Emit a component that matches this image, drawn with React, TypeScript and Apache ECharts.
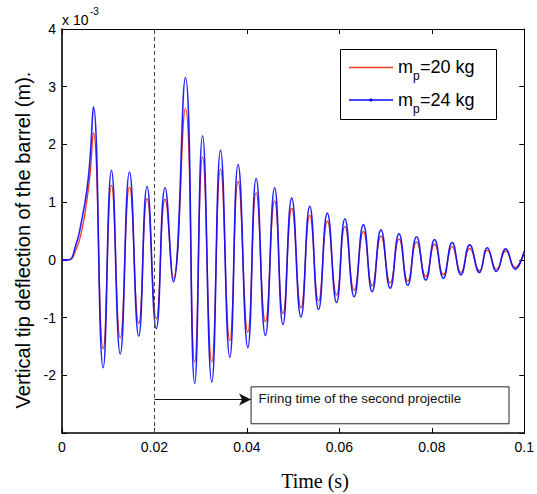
import React, { useEffect, useRef } from "react";
import * as echarts from "echarts";

// Time (s) of the read-off extrema / shape points
const time = [
  0, 0.0014, 0.0029, 0.0043, 0.0054, 0.0061, 0.0068, 0.0089, 0.0107, 0.0126,
  0.0146, 0.0166, 0.0184, 0.0204, 0.0223, 0.0241, 0.0267, 0.0287, 0.0304, 0.0324,
  0.0343, 0.0363, 0.0381, 0.0402, 0.042, 0.044, 0.046, 0.0478, 0.0497, 0.0517,
  0.0536, 0.0555, 0.0574, 0.0594, 0.0612, 0.0632, 0.0652, 0.0671, 0.069, 0.071,
  0.0729, 0.0748, 0.0767, 0.0787, 0.0806, 0.0825, 0.0844, 0.0863, 0.0882, 0.0903,
  0.092, 0.094, 0.096, 0.098, 0.1,
];
// Deflection in units of 1e-3 m
const deflection20kg = [
  0, 0, 0.15, 0.52, 1.04, 1.51, 2.2, -1.54, 1.29, -1.35,
  1.26, -1.1, 1.06, -1.02, 1.05, -0.32, 2.62, -1.77, 1.78, -1.77,
  1.57, -1.4, 1.36, -1.25, 1.16, -1.07, 1.02, -0.93, 0.89, -0.83,
  0.77, -0.71, 0.67, -0.61, 0.58, -0.53, 0.49, -0.45, 0.41, -0.4,
  0.36, -0.37, 0.31, -0.29, 0.27, -0.26, 0.23, -0.22, 0.2, -0.19,
  0.17, -0.16, 0.15, -0.13, 0.12,
];
const deflection24kg = [
  0, 0, 0.23, 0.7, 1.22, 1.79, 2.65, -1.87, 1.55, -1.63,
  1.52, -1.32, 1.27, -1.19, 1.25, -0.38, 3.16, -2.14, 2.15, -2.12,
  1.9, -1.69, 1.65, -1.52, 1.41, -1.31, 1.25, -1.12, 1.07, -0.99,
  0.93, -0.86, 0.81, -0.74, 0.71, -0.64, 0.61, -0.55, 0.52, -0.49,
  0.45, -0.44, 0.4, -0.35, 0.35, -0.32, 0.3, -0.26, 0.26, -0.22,
  0.21, -0.2, 0.19, -0.16, 0.16,
];

const seriesNames = ["m_p=20 kg", "m_p=24 kg"];
const secondFiringTime = 0.02;
const annotationText = "Firing time of the second projectile";
const arrowY = -2.42;
const boxX = [0.0409, 0.0967];
const boxY = [-2.2, -2.84];

const FONT = "'Liberation Sans', Arial, Helvetica, sans-serif";
const SERIF = "'Liberation Serif', 'Times New Roman', serif";
const RED = "#f0381a";
const BLUE = "#0a0aff";

export default function App() {
  const ref = useRef<HTMLDivElement>(null);
  useEffect(() => {
    if (!ref.current) return;
    const chart = echarts.init(ref.current, undefined, { renderer: "svg" });
    const grid = { left: 62, right: 9, top: 29, bottom: 61 };
    const option: any = {
      animation: false,
      backgroundColor: "#ffffff",
      grid,
      xAxis: [
        {
          type: "value",
          min: 0,
          max: 0.1,
          interval: 0.02,
          position: "bottom",
          axisLine: { show: true, onZero: false, lineStyle: { color: "#000", width: 1.6 } },
          axisTick: { show: true, inside: true, length: 5, lineStyle: { color: "#000", width: 1 } },
          axisLabel: { color: "#000", fontFamily: FONT, fontSize: 14, margin: 7 },
          splitLine: { show: false },
        },
        {
          type: "value",
          min: 0,
          max: 0.1,
          interval: 0.02,
          position: "top",
          axisLine: { show: true, onZero: false, lineStyle: { color: "#000", width: 1 } },
          axisTick: { show: true, inside: true, length: 5, lineStyle: { color: "#000", width: 1 } },
          axisLabel: { show: false },
          splitLine: { show: false },
        },
      ],
      yAxis: [
        {
          type: "value",
          min: -3,
          max: 4,
          interval: 1,
          position: "left",
          axisLine: { show: true, onZero: false, lineStyle: { color: "#000", width: 1.6 } },
          axisTick: { show: true, inside: true, length: 5, lineStyle: { color: "#000", width: 1 } },
          axisLabel: {
            color: "#000",
            fontFamily: FONT,
            fontSize: 14,
            margin: 6,
            formatter: (v: number) => (v === -3 ? "" : String(v)),
          },
          splitLine: { show: false },
        },
        {
          type: "value",
          min: -3,
          max: 4,
          interval: 1,
          position: "right",
          axisLine: { show: true, onZero: false, lineStyle: { color: "#000", width: 1 } },
          axisTick: { show: true, inside: true, length: 5, lineStyle: { color: "#000", width: 1 } },
          axisLabel: { show: false },
          splitLine: { show: false },
        },
      ],
      series: [
        {
          name: seriesNames[0],
          type: "line",
          xAxisIndex: 0,
          yAxisIndex: 0,
          data: time.map((t, i) => [t, deflection20kg[i]]),
          smooth: 0.5,
          symbol: "none",
          lineStyle: { color: RED, width: 1.3 },
          z: 2,
          markLine: {
            silent: true,
            symbol: ["none", "none"],
            label: { show: false },
            lineStyle: { color: "#444", type: [4, 3], width: 1 },
            data: [{ xAxis: secondFiringTime }],
          },
          markArea: {
            silent: true,
            itemStyle: { color: "#fff", borderColor: "#222", borderWidth: 1 },
            label: {
              show: true,
              position: [8, 6],
              color: "#111",
              fontFamily: FONT,
              fontSize: 13.3,
              align: "left",
              verticalAlign: "top",
            },
            data: [
              [
                { name: annotationText, coord: [boxX[0], boxY[0]] },
                { coord: [boxX[1], boxY[1]] },
              ],
            ],
          },
        },
        {
          name: seriesNames[1],
          type: "line",
          xAxisIndex: 0,
          yAxisIndex: 0,
          data: time.map((t, i) => [t, deflection24kg[i]]),
          smooth: 0.5,
          symbol: "none",
          lineStyle: { color: BLUE, width: 1.6, opacity: 0.9 },
          z: 3,
          markLine: {
            silent: true,
            symbol: ["none", "arrow"],
            symbolSize: [9, 12],
            label: { show: false },
            lineStyle: { color: "#111", type: "solid", width: 1 },
            itemStyle: { color: "#111" },
            data: [
              [
                { coord: [secondFiringTime, arrowY] },
                { coord: [boxX[0], arrowY] },
              ],
            ],
          },
        },
      ],
      graphic: [
        {
          type: "text",
          left: 62,
          top: 13,
          style: { text: "x 10", fill: "#000", font: `14px ${FONT}` },
        },
        {
          type: "text",
          left: 90,
          top: 6,
          style: { text: "-3", fill: "#000", font: `10px ${FONT}` },
        },
        {
          type: "text",
          x: 23,
          y: 240,
          rotation: Math.PI / 2,
          style: {
            text: "Vertical tip deflection of the barrel (m).",
            fill: "#000",
            font: `20px ${FONT}`,
            textAlign: "center",
            textVerticalAlign: "middle",
          },
        },
        {
          type: "text",
          x: 315,
          y: 481,
          style: {
            text: "Time (s)",
            fill: "#000",
            font: `20px ${SERIF}`,
            textAlign: "center",
            textVerticalAlign: "middle",
          },
        },
        {
          type: "rect",
          shape: { x: 340.5, y: 49.5, width: 156, height: 70 },
          style: { fill: "#fff", stroke: "#000", lineWidth: 1 },
          z: 10,
        },
        {
          type: "line",
          shape: { x1: 349, y1: 67.5, x2: 393, y2: 67.5 },
          style: { stroke: RED, lineWidth: 1.3 },
          z: 11,
        },
        {
          type: "line",
          shape: { x1: 349, y1: 100, x2: 393, y2: 100 },
          style: { stroke: BLUE, lineWidth: 1.3 },
          z: 11,
        },
        {
          type: "circle",
          shape: { cx: 371, cy: 100, r: 1.6 },
          style: { fill: BLUE },
          z: 11,
        },
        {
          type: "text",
          x: 398,
          y: 67,
          style: { text: "m", fill: "#000", font: `18px ${FONT}`, textVerticalAlign: "middle" },
          z: 11,
        },
        {
          type: "text",
          x: 413,
          y: 76,
          style: { text: "p", fill: "#000", font: `12px ${FONT}`, textVerticalAlign: "middle" },
          z: 11,
        },
        {
          type: "text",
          x: 420,
          y: 67,
          style: { text: "=20 kg", fill: "#000", font: `18px ${FONT}`, textVerticalAlign: "middle" },
          z: 11,
        },
        {
          type: "text",
          x: 398,
          y: 99.5,
          style: { text: "m", fill: "#000", font: `18px ${FONT}`, textVerticalAlign: "middle" },
          z: 11,
        },
        {
          type: "text",
          x: 413,
          y: 108.5,
          style: { text: "p", fill: "#000", font: `12px ${FONT}`, textVerticalAlign: "middle" },
          z: 11,
        },
        {
          type: "text",
          x: 420,
          y: 99.5,
          style: { text: "=24 kg", fill: "#000", font: `18px ${FONT}`, textVerticalAlign: "middle" },
          z: 11,
        },
      ],
    };
    chart.setOption(option);
    return () => chart.dispose();
  }, []);
  return (
    <div
      ref={ref}
      style={{ position: "fixed", left: 0, top: 0, width: 537, height: 494, overflow: "hidden" }}
    />
  );
}
